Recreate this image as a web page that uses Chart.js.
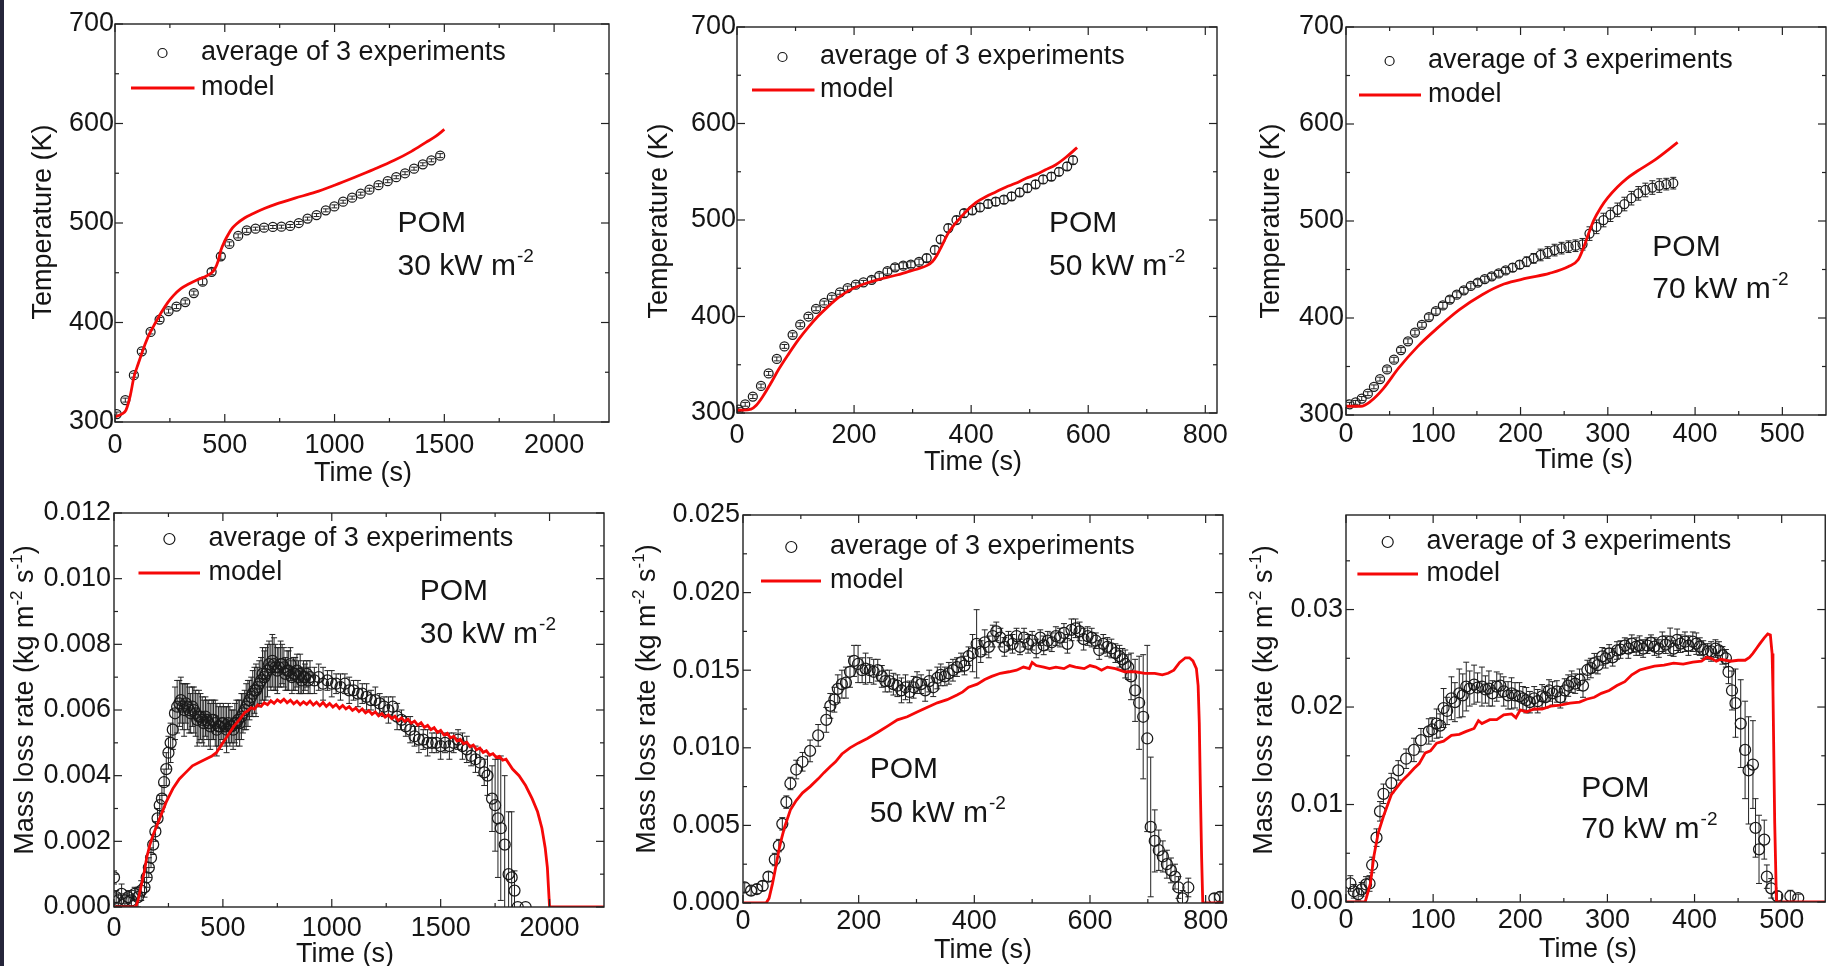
<!DOCTYPE html>
<html><head><meta charset="utf-8">
<script src="https://cdn.jsdelivr.net/npm/chart.js@4.4.1/dist/chart.umd.min.js"></script>
<style>
html,body{margin:0;padding:0;background:#fff;}
body{width:1832px;height:966px;position:relative;overflow:hidden;}
canvas{position:absolute;}
#strip{position:absolute;left:0;top:0;width:4px;height:966px;background:#25253a;}
</style></head><body>
<div id="strip"></div>
<script>
// ---------- DATA ----------
// Tick values
const T_xTicks30 = [0,500,1000,1500,2000];
const T_xTicks50 = [0,200,400,600,800];
const T_xTicks70 = [0,100,200,300,400,500];
const T_yTicks = [300,400,500,600,700];
const M_yTicks30 = [0,0.002,0.004,0.006,0.008,0.010,0.012];
const M_yTicks50 = [0,0.005,0.010,0.015,0.020,0.025];
const M_yTicks70 = [0,0.01,0.02,0.03];

// Panel 1: temperature, 30 kW m-2
const P1_expTime = [8,47,86,122,162,203,244,280,320,359,399,440,482,521,561,600,640,679,719,758,798,837,877,918,960,999,1039,1080,1119,1159,1200,1242,1281,1321,1362,1402,1441,1481];
const P1_expTemp = [308,322,347,371,390.5,403,411.5,416,420.6,429.6,441,451,466.5,479,487,492.6,494.3,495.3,496,496.3,497,500,504.4,508,512.7,516.7,521.4,525.5,529.5,533.5,538,542,546,550,554.6,559,563,567.7];
const P1_expErr  = [2,2,2,2,2,2,2,2,2,2,3,3,3,2,2,2,1.5,1.5,1.5,1.5,1.5,1.5,1.5,1.5,1.5,1.5,1.5,1.5,1.5,1.5,1.5,1.5,1.5,1.5,1.5,1.5,1.5,2];
const P1_modelTime = [0,10,30,50,70,86,105,122,140,158,185,212,240,266,300,338,375,410,440,455,470,482,500,517,535,553,590,625,680,733,820,913,1000,1092,1180,1272,1350,1416,1460,1500];
const P1_modelTemp = [305,306,308,312,327,345,358,369,380,389,400,410.5,420,427,434,439,443,446,450,454,462,472.5,482,489,495,499,505,509,514.5,519,525,531,538,546,554,563,572,581,587,594];

// Panel 2: temperature, 50 kW m-2
const P2_expTime = [3,14,27,41,54,68,81,95,108,122,135,149,162,176,189,203,216,230,243,257,270,284,297,311,324,338,348,361,375,388,402,415,429,442,456,469,483,496,510,523,537,550,564,574];
const P2_expTemp = [303.5,309,317,328,341,356,369,381,391.5,400,408,414,420,425,429.5,433,435.4,438,442,447,451,452.7,453.7,456.5,460.6,469,480,491.7,500,507,510,513,516.6,519,521,524.5,528.7,533,537,542,545,550,555.6,562];
const P2_expErr  = [2,2,2,2,2,2,2,2,2,2,2,2,2,2,2,2,2,3,3,3,3,3,3,3,4,4,4,4,4,4,4,4,4,4,4,4,4,4,4,4,4,4,4,4];
const P2_modelTime = [0,10,24,33,44,57,71,88,105,122,138,155,172,189,206,223,240,273,290,307,325,334,341,348,361,381,408,425,442,459,476,493,510,527,544,562,581];
const P2_modelTemp = [303,303,304,308,317,330,345,361,376,389,400,410,419,426,431,435,438,443,446,449,453,457,463,471,486.5,502,518,524,529,534,538,543,547,552,557,565,575];

// Panel 3: temperature, 70 kW m-2
const P3_expTime = [4,11,18,25,32,39,47,55,63,71,79,87,95,103,111,119,127,135,143,151,159,167,175,183,191,199,207,215,223,231,239,247,255,263,271,279,287,295,303,311,319,327,335,343,351,359,367,375];
const P3_expTemp = [311,313,317,322,329,337,347,357,367,376,385,393,401,407,413,419,424,428.5,433,436.5,440,443,446,449,452,455,458,461.5,465,467.5,470,472,473.5,474.5,476,487,494,501,506.5,511.5,517.5,523.5,528.5,532,534.5,536.5,538,539];
const P3_expErr  = [2,2,2,2,2,2,2.5,2.5,2.5,2.5,2.5,2.5,3,3,3,3,3,3,3,3,3,3,3,3,4,4,5,5,6,6,6,6,6,6,6,7,7,7,7,7,7,7,7,7,7,7,6,6];
const P3_modelTime = [0,10,17,28,43,60,82,104,130,156,181,207,233,255,266,272,278,284,292,300,311,322,333,354,380];
const P3_modelTemp = [309,309,309,314,327.5,348,370.5,389,408.6,424,435,441,446,453,460,472,487,501,514,524,535,544,551,563,581];

// Panel 4: mass loss rate, 30 kW m-2
const P4_expTime = [0,10,20,35,50,65,80,95,110,125,140,
  150,160,170,180,190,200,210,220,230,240,250,260,270,280,290,300,
  307,315,322,330,337,345,352,360,367,375,382,390,397,405,412,420,427,435,442,450,457,465,472,480,487,495,502,510,517,525,532,540,547,555,562,570,577,585,592,600,
  607,615,622,630,637,645,652,660,667,675,682,690,697,705,712,720,727,735,742,750,757,765,772,780,787,795,802,810,817,825,832,840,847,855,862,870,877,885,892,900,
  920,940,960,980,1000,1020,1040,1060,1080,1100,1120,1140,1160,1180,1200,1220,1240,1260,1280,1300,
  1320,1340,1360,1380,1400,1420,1440,1460,1480,1500,1520,1540,1560,1580,1600,1620,1640,1660,1680,1700,
  1715,1736,1750,1763,1776,1794,1812,1826,1839,1854,1890];
const P4_expMLR = [0.0009,0.0003,0.0002,0.0004,0.0002,0.0003,0.0002,0.0004,0.0003,0.0005,0.0006,
  0.0009,0.0012,0.0015,0.0019,0.0023,0.0027,0.0031,0.0033,0.0038,0.0042,0.0047,0.0050,0.0054,0.0059,0.0061,0.0062,
  0.0063,0.0061,0.0060,0.0062,0.0061,0.0060,0.0059,0.0061,0.0060,0.0059,0.0057,0.0058,0.0058,0.0057,0.0056,0.0058,0.0057,0.0056,0.0055,0.0057,0.0057,0.0056,0.0054,0.0055,0.0055,0.0056,0.0056,0.0055,0.0054,0.0056,0.0055,0.0055,0.0054,0.0056,0.0056,0.0057,0.0056,0.0058,0.0059,0.0060,
  0.0061,0.0062,0.0063,0.0064,0.0065,0.0066,0.0066,0.0067,0.0068,0.0069,0.0071,0.0070,0.0071,0.0072,0.0074,0.0073,0.0075,0.0074,0.0073,0.0072,0.0073,0.0074,0.0074,0.0073,0.0071,0.0072,0.0072,0.0074,0.0070,0.0071,0.0071,0.0072,0.0070,0.0071,0.0069,0.0070,0.0070,0.0071,0.0069,0.0070,
  0.0069,0.0070,0.0068,0.0069,0.0068,0.0068,0.0067,0.0068,0.0066,0.0066,0.0065,0.0065,0.0064,0.0063,0.0063,0.0062,0.0061,0.0060,0.0061,0.0058,
  0.0057,0.0055,0.0054,0.0052,0.0051,0.0051,0.0050,0.0050,0.0050,0.0049,0.0050,0.0049,0.0050,0.0051,0.0049,0.0048,0.0046,0.0045,0.0044,0.0041,
  0.0040,0.0033,0.0031,0.0027,0.0024,0.0019,0.0010,0.0009,0.0005,0,0];
const P4_expErr = [0.0002,0.0002,0.0002,0.0003,0.0002,0.0002,0.0003,0.0002,0.0003,0.0003,0.0003,
  0.0003,0.0003,0.0003,0.0003,0.0003,0.0003,0.0003,0.0004,0.0004,0.0005,0.0005,0.0006,0.0006,0.0008,0.0008,0.0007,
  0.0007,0.0007,0.0008,0.0006,0.0007,0.0007,0.0006,0.0006,0.0007,0.0007,0.0008,0.0008,0.0007,0.0007,0.0007,0.0006,0.0006,0.0007,0.0007,0.0006,0.0006,0.0007,0.0008,0.0006,0.0007,0.0005,0.0006,0.0006,0.0007,0.0006,0.0006,0.0005,0.0006,0.0006,0.0007,0.0006,0.0007,0.0007,0.0006,0.0006,
  0.0007,0.0007,0.0006,0.0006,0.0007,0.0007,0.0008,0.0006,0.0007,0.0007,0.0008,0.0008,0.0008,0.0008,0.0007,0.0007,0.0008,0.0008,0.0007,0.0007,0.0006,0.0007,0.0006,0.0006,0.0005,0.0006,0.0006,0.0005,0.0005,0.0005,0.0005,0.0005,0.0005,0.0006,0.0004,0.0005,0.0004,0.0004,0.0004,0.0005,
  0.0004,0.0004,0.0005,0.0003,0.0004,0.0003,0.0004,0.0003,0.0004,0.0003,0.0004,0.0003,0.0004,0.0003,0.0004,0.0003,0.0003,0.0004,0.0003,0.0004,
  0.0003,0.0003,0.0004,0.0003,0.0004,0.0003,0.0004,0.0003,0.0003,0.0004,0.0003,0.0004,0.0003,0.0003,0.0004,0.0004,0.0003,0.0004,0.0004,0.0004,
  0.0006,0.0010,0.0014,0.0018,0.0022,0.0021,0.0019,0.0020,0.0006,0,0];
const P4_modelTime = [0,100,110,120,130,140,150,165,180,204,240,270,300,330,360,390,420,450,470,490,510,530,550,575,
  600,615,630,645,660,675,690,705,720,735,750,765,780,795,810,825,840,855,870,885,900,915,930,945,960,975,990,1005,1020,1035,1050,1065,1080,1095,1110,1125,1140,1155,1170,1185,1200,1215,1230,1245,1260,1275,1290,1305,1320,1335,1350,1365,1380,1395,1410,1425,1440,1455,1470,1485,1500,1515,1530,1545,1560,1575,1590,1605,1620,1635,1650,1665,1680,1695,1710,1725,1740,1755,1770,1785,1800,
  1830,1860,1890,1920,1945,1965,1980,1990,1995,2000,2250];
const P4_modelMLR = [0,0,0.0002,0.0005,0.0008,0.0011,0.0015,0.0019,0.0022,0.0026,0.0032,0.0036,0.0039,0.0041,0.0043,0.0044,0.0045,0.0046,0.0047,0.0049,0.0051,0.0053,0.0055,0.0057,
  0.00592,0.00598,0.00607,0.00603,0.00616,0.00611,0.00622,0.00616,0.00628,0.00620,0.00631,0.00624,0.00633,0.00622,0.00630,0.00619,0.00627,0.00616,0.00625,0.00617,0.00627,0.00615,0.00624,0.00613,0.00623,0.00611,0.00620,0.00609,0.00617,0.00605,0.00614,0.00603,0.00610,0.00599,0.00606,0.00595,0.00603,0.00591,0.00598,0.00587,0.00594,0.00582,0.00589,0.00578,0.00585,0.00574,0.00581,0.00568,0.00576,0.00565,0.00572,0.00560,0.00566,0.00554,0.00561,0.00547,0.00553,0.00540,0.00546,0.00532,0.00538,0.00524,0.00529,0.00515,0.00520,0.00506,0.00511,0.00497,0.00502,0.00488,0.00493,0.00479,0.00484,0.00471,0.00476,0.00463,0.00467,0.00456,0.00459,0.00447,0.00450,
  0.0042,0.0040,0.0037,0.0033,0.0029,0.0024,0.0018,0.0012,0.0006,0,0];

// Panel 5: mass loss rate, 50 kW m-2
const P5_expTime = [3,14,24,34,44,55,62,68,75,82,92,103,116,130,144,158,171,185,199,212,226,240,253,267,281,295,308,322,336,349,363,377,390,404,418,432,445,459,473,486,500,514,527,541,555,568,582,596,610,623,637,651,661,671,678,685,692,699,705,712,719,726,733,740,747,753,760,770,815,825,
  151,164,178,192,206,219,233,246,260,274,288,301,315,329,342,356,370,383,397,411,425,438,452,466,479,493,507,520,534,548,561,575,589,603,616,630,644,656,666];
const P5_expMLR = [0.001,0.0008,0.0009,0.0011,0.0017,0.0028,0.0037,0.0051,0.0065,0.0077,0.0086,0.0091,0.0098,0.0108,0.0118,0.0131,0.0141,0.0149,0.0154,0.0151,0.0149,0.0146,0.0143,0.014,0.0139,0.0139,0.0141,0.0143,0.0145,0.0146,0.015,0.0155,0.0159,0.0167,0.0168,0.0172,0.0171,0.0169,0.0172,0.0171,0.0169,0.0171,0.0169,0.0172,0.0174,0.0176,0.0175,0.0172,0.0169,0.0167,0.0164,0.0159,0.0154,0.0146,0.0137,0.0129,0.012,0.0106,0.0049,0.004,0.0034,0.003,0.0025,0.0021,0.0017,0.001,0.0003,0.001,0.0003,0.0004,
  0.0127,0.0138,0.0142,0.0156,0.0150,0.0150,0.0150,0.0143,0.0141,0.0137,0.0136,0.0142,0.0137,0.0139,0.0147,0.0148,0.0152,0.0153,0.0161,0.0162,0.0165,0.0175,0.0165,0.0167,0.0165,0.0167,0.0164,0.0166,0.0168,0.0171,0.0167,0.0177,0.0170,0.0171,0.0163,0.0165,0.0161,0.0157,0.0152];
const P5_expErr = [0.0003,0.0003,0.0003,0.0003,0.0003,0.0004,0.0004,0.0004,0.0004,0.0004,0.0006,0.0006,0.0007,0.0007,0.0008,0.0008,0.0009,0.001,0.0012,0.001,0.0008,0.0007,0.0007,0.0007,0.0008,0.0007,0.0006,0.0007,0.0007,0.0006,0.0007,0.0006,0.0006,0.0022,0.0008,0.0007,0.0006,0.0006,0.0005,0.0006,0.0006,0.0005,0.0006,0.0006,0.0006,0.0007,0.0006,0.0006,0.0005,0.0006,0.0006,0.0007,0.0009,0.0015,0.002,0.003,0.004,0.006,0.0045,0.002,0.0013,0.001,0.0009,0.0008,0.0008,0.0007,0.0005,0.0006,0.0003,0.0003,
  0.0008,0.0009,0.0010,0.0010,0.0008,0.0008,0.0007,0.0007,0.0007,0.0008,0.0007,0.0007,0.0007,0.0006,0.0007,0.0007,0.0006,0.0006,0.0012,0.0007,0.0007,0.0006,0.0006,0.0006,0.0005,0.0006,0.0006,0.0006,0.0006,0.0006,0.0006,0.0006,0.0007,0.0006,0.0006,0.0006,0.0006,0.0007,0.0008];
const P5_modelTime = [0,40,45,51,56,62,67,72,82,92,103,116,130,140,151,160,171,185,199,215,233,250,267,284,301,318,336,353,370,380,390,405,418,430,445,460,473,485,495,500,507,520,530,541,555,565,575,590,600,610,620,630,644,660,678,695,712,725,735,745,755,765,772,778,784,787,789,791,793,795,830];
const P5_modelMLR = [0,0,0.0003,0.00125,0.0022,0.0034,0.0042,0.0049,0.006,0.0066,0.0071,0.0075,0.008,0.0084,0.0088,0.0091,0.0096,0.01,0.0103,0.0106,0.011,0.0114,0.0118,0.012,0.0123,0.0126,0.0129,0.0131,0.0134,0.0136,0.0139,0.0141,0.0144,0.0146,0.0148,0.0149,0.015,0.0152,0.0151,0.0155,0.0153,0.0152,0.0151,0.0152,0.0151,0.0153,0.0152,0.0151,0.0153,0.0152,0.015,0.0152,0.0151,0.0149,0.0149,0.0148,0.0148,0.0147,0.0148,0.015,0.0155,0.0158,0.0158,0.0156,0.0151,0.014,0.0116,0.007,0.003,0,0];

// Panel 6: mass loss rate, 70 kW m-2
const P6_expTime = [5,9,14,18,23,27,30,35,39,43,52,60,69,78,86,95,104,112,121,130,138,147,156,164,173,181,190,199,207,216,225,233,242,251,259,268,277,285,294,302,311,320,328,337,346,354,363,372,380,389,398,406,415,424,432,439,443,447,453,458,462,467,470,474,480,483,488,495,510,519,
  99,108,116,125,134,142,151,160,168,177,186,194,203,211,220,229,237,246,255,263,272,281,289,298,306,315,324,333,341,350,359,367,376,384,393,402,410,419,428,436];
const P6_expMLR = [0.0019,0.0011,0.0008,0.0013,0.0018,0.0019,0.0038,0.0066,0.0093,0.0111,0.0122,0.0135,0.0147,0.0156,0.0166,0.0175,0.0183,0.0199,0.0209,0.0214,0.0221,0.0223,0.0221,0.0219,0.0221,0.0216,0.0214,0.0211,0.0207,0.0209,0.0211,0.0217,0.0216,0.0217,0.0226,0.0228,0.0238,0.0245,0.0252,0.0255,0.0258,0.0263,0.0265,0.0263,0.0263,0.0262,0.0267,0.0267,0.0269,0.0267,0.0267,0.0262,0.0257,0.026,0.0253,0.0236,0.0217,0.0204,0.0183,0.0156,0.0135,0.0141,0.0076,0.0054,0.0064,0.0026,0.0014,0.0006,0.0006,0.0004,
  0.0177,0.0181,0.0196,0.0205,0.0212,0.0219,0.0220,0.0218,0.0214,0.0222,0.0212,0.0212,0.0209,0.0205,0.0206,0.0210,0.0214,0.0210,0.0222,0.0224,0.0222,0.0240,0.0243,0.0250,0.0251,0.0259,0.0260,0.0262,0.0260,0.0266,0.0260,0.0264,0.0260,0.0265,0.0263,0.0265,0.0259,0.0257,0.0258,0.0250];
const P6_expErr = [0.0008,0.0007,0.0006,0.0007,0.0008,0.0008,0.0008,0.0009,0.001,0.001,0.001,0.001,0.001,0.0012,0.0012,0.0013,0.0015,0.002,0.0022,0.0025,0.0025,0.002,0.002,0.0018,0.0015,0.0015,0.0016,0.0014,0.0013,0.0012,0.0012,0.0011,0.0011,0.0012,0.0011,0.0011,0.001,0.001,0.0009,0.0009,0.0009,0.0008,0.0009,0.001,0.0008,0.0009,0.001,0.0014,0.0011,0.001,0.001,0.0009,0.0008,0.0009,0.0009,0.0012,0.002,0.0035,0.0045,0.005,0.0055,0.0045,0.003,0.0035,0.002,0.0012,0.001,0.0005,0.0006,0.0004,
  0.0012,0.0012,0.0014,0.002,0.0022,0.0018,0.0015,0.0014,0.0013,0.0012,0.0014,0.0013,0.0012,0.0011,0.0012,0.0011,0.0012,0.0011,0.0011,0.001,0.0012,0.001,0.0009,0.001,0.0009,0.0009,0.001,0.0009,0.0009,0.0008,0.0009,0.0009,0.0008,0.0009,0.001,0.0011,0.0009,0.001,0.0009,0.0009];
const P6_modelTime = [0,22,28,32,37,43,52,58,65,72,78,84,91,97,104,112,121,130,138,147,152,156,165,173,181,190,195,200,207,216,225,235,246,257,268,276,285,293,302,311,320,328,337,345,354,365,376,387,398,408,414,419,425,430,441,450,458,463,467,471,475,480,484,487,489,490,492,494,550];
const P6_modelMLR = [0,0,0.0019,0.0047,0.0071,0.0088,0.011,0.0117,0.0125,0.0131,0.0137,0.0142,0.0153,0.0155,0.0163,0.0165,0.0171,0.0172,0.0175,0.0178,0.0186,0.0183,0.0187,0.0187,0.0192,0.0193,0.0189,0.0197,0.0195,0.0198,0.0198,0.0201,0.0202,0.0204,0.0205,0.0208,0.021,0.0214,0.0217,0.0222,0.0226,0.0233,0.0238,0.024,0.0242,0.0243,0.0245,0.0244,0.0246,0.0247,0.0251,0.025,0.0247,0.0249,0.0247,0.0248,0.0248,0.0251,0.0255,0.026,0.0265,0.0271,0.0275,0.0274,0.0255,0.0217,0.0081,0,0];

// Texts
const LEGEND_EXP = 'average of 3 experiments';
const LEGEND_MODEL = 'model';
const MATERIAL = 'POM';
const FLUX_LABELS = ['30 kW m', '50 kW m', '70 kW m'];
const X_TITLE = 'Time (s)';
const Y_TITLE_T = 'Temperature (K)';
const Y_TITLE_MLR = [['Mass loss rate (kg m',0],['-2',1],[' s',0],['-1',1],[')',0]];

// ---------- STYLE / LAYOUT ----------
const FONT = '"Liberation Sans", Arial, Helvetica, sans-serif';
const RED = 'rgb(245,8,8)';
const INK = '#151515';

// x/y: [min, max, majorStep, minorStep, decimals]
const panels = [
 {box:[0,0,625,490], plot:[115,24,609,422], x:[0,2250,500,250,0], y:[300,700,100,50,0], xt:T_xTicks30, yt:T_yTicks, xpad:7, ypad:1,
  ex:[P1_expTime,P1_expTemp,P1_expErr], mo:[P1_modelTime,P1_modelTemp], smooth:true, r:4.5,
  yT:[[Y_TITLE_T,0]], yTxy:[43.5,222], xTxy:[363,474], leg:[47.5,29,86,16,79.5,64], ann:[1287,499,456,0]},
 {box:[625,0,615,490], plot:[737,27,1217,413], x:[0,820,200,100,0], y:[300,700,100,50,0], xt:T_xTicks50, yt:T_yTicks, xpad:6, ypad:1,
  ex:[P2_expTime,P2_expTemp,P2_expErr], mo:[P2_modelTime,P2_modelTemp], smooth:true, r:4.5,
  yT:[[Y_TITLE_T,0]], yTxy:[660,221], xTxy:[973,463], leg:[45.5,30,83,15,77.5,63], ann:[533,496,452,1]},
 {box:[1240,0,592,490], plot:[1346,27,1826,415], x:[0,550,100,50,0], y:[300,700,100,50,0], xt:T_xTicks70, yt:T_yTicks, xpad:3, ypad:2,
  ex:[P3_expTime,P3_expTemp,P3_expErr], mo:[P3_modelTime,P3_modelTemp], smooth:true, r:4.5,
  yT:[[Y_TITLE_T,0]], yTxy:[1272,221], xTxy:[1584,461], leg:[43.6,34,82,13,75,68], ann:[351,472,429,2]},
 {box:[0,490,625,476], plot:[114,513,604,907], x:[0,2250,500,250,0], y:[0,0.012,0.002,0.001,3], xt:T_xTicks30, yt:M_yTicks30, xpad:5, ypad:3,
  ex:[P4_expTime,P4_expMLR,P4_expErr], mo:[P4_modelTime,P4_modelMLR], smooth:false, r:5.5,
  yT:Y_TITLE_MLR, yTxy:[26,700], xTxy:[345,955], leg:[55.4,26,94.6,24.5,86,60], ann:[1404,0.00961,0.00829,0]},
 {box:[625,490,615,476], plot:[743,515,1223,903], x:[0,830,200,100,0], y:[0,0.025,0.005,0.0025,3], xt:T_xTicks50, yt:M_yTicks50, xpad:2, ypad:3,
  ex:[P5_expTime,P5_expMLR,P5_expErr], mo:[P5_modelTime,P5_modelMLR], smooth:false, r:5.5,
  yT:Y_TITLE_MLR, yTxy:[648,699], xTxy:[983,951], leg:[48.3,32,87,18,78,66], ann:[219,0.00856,0.00576,1]},
 {box:[1240,490,592,476], plot:[1346,515,1827,902], x:[0,550,100,50,0], y:[0,0.0397,0.01,0.005,2], xt:T_xTicks70, yt:M_yTicks70, xpad:2, ypad:3,
  ex:[P6_expTime,P6_expMLR,P6_expErr], mo:[P6_modelTime,P6_modelMLR], smooth:false, r:5.5,
  yT:Y_TITLE_MLR, yTxy:[1265,700], xTxy:[1588,950], leg:[41.7,27,80.5,11.4,72,59], ann:[270,0.01167,0.0074,2]}
];

function drawRich(ctx, segs, x, y, rot, size, supSize, rise) {
  ctx.save();
  ctx.translate(x, y);
  ctx.rotate(rot);
  let w = 0;
  const ws = segs.map(s => { ctx.font = (s[1] ? supSize : size) + 'px ' + FONT; const m = ctx.measureText(s[0]).width; w += m; return m; });
  let cx = -w / 2;
  ctx.textBaseline = 'middle'; ctx.textAlign = 'left'; ctx.fillStyle = INK;
  segs.forEach((s, i) => { ctx.font = (s[1] ? supSize : size) + 'px ' + FONT; ctx.fillText(s[0], cx, s[1] ? -rise : 0); cx += ws[i]; });
  ctx.restore();
}

function deco(p) {
  const bx = p.box[0], by = p.box[1];
  return {
    id: 'deco',
    beforeDatasetsDraw(chart) {
      const ctx = chart.ctx, xs = chart.scales.x, ys = chart.scales.y, a = chart.chartArea;
      const [T, V, E] = p.ex;
      ctx.save();
      ctx.beginPath(); ctx.rect(a.left, a.top, a.right - a.left, a.bottom - a.top); ctx.clip();
      ctx.strokeStyle = '#222'; ctx.lineWidth = 1;
      for (let i = 0; i < T.length; i++) {
        if (!E[i]) continue;
        const px = xs.getPixelForValue(T[i]);
        const y1 = ys.getPixelForValue(V[i] + E[i]), y2 = ys.getPixelForValue(V[i] - E[i]);
        ctx.beginPath();
        ctx.moveTo(px, y1); ctx.lineTo(px, y2);
        ctx.moveTo(px - 3, y1); ctx.lineTo(px + 3, y1);
        ctx.moveTo(px - 3, y2); ctx.lineTo(px + 3, y2);
        ctx.stroke();
      }
      ctx.restore();
    },
    afterDraw(chart) {
      const ctx = chart.ctx, xs = chart.scales.x, ys = chart.scales.y, a = chart.chartArea;
      ctx.save();
      ctx.strokeStyle = '#222'; ctx.lineWidth = 1.4;
      ctx.strokeRect(a.left, a.top, a.right - a.left, a.bottom - a.top);
      ctx.lineWidth = 1.2;
      const seg = (x1, y1, x2, y2) => { ctx.beginPath(); ctx.moveTo(x1, y1); ctx.lineTo(x2, y2); ctx.stroke(); };
      xs.ticks.forEach(t => { const px = xs.getPixelForValue(t.value); seg(px, a.bottom, px, a.bottom - 8); seg(px, a.top, px, a.top + 8); });
      ys.ticks.forEach(t => { const py = ys.getPixelForValue(t.value); seg(a.left, py, a.left + 8, py); seg(a.right, py, a.right - 8, py); });
      const xm = p.x[3], ym = p.y[3];
      for (let k = 1; k * xm < p.x[1] - 1e-9; k++) {
        const v = k * xm; if (Math.abs(v / p.x[2] - Math.round(v / p.x[2])) < 1e-6) continue;
        const px = xs.getPixelForValue(v); seg(px, a.bottom, px, a.bottom - 4); seg(px, a.top, px, a.top + 4);
      }
      for (let k = 1; p.y[0] + k * ym < p.y[1] - 1e-9; k++) {
        const v = p.y[0] + k * ym; if (Math.abs((v - p.y[0]) / p.y[2] - Math.round((v - p.y[0]) / p.y[2])) < 1e-6) continue;
        const py = ys.getPixelForValue(v); seg(a.left, py, a.left + 4, py); seg(a.right, py, a.right - 4, py);
      }
      // legend
      const L = a.left, Tp = a.top, lg = p.leg;
      ctx.strokeStyle = INK; ctx.lineWidth = 1.2;
      ctx.beginPath(); ctx.arc(L + lg[0], Tp + lg[1], p.r, 0, Math.PI * 2); ctx.stroke();
      ctx.strokeStyle = RED; ctx.lineWidth = 3;
      seg(L + lg[3], Tp + lg[5], L + lg[4], Tp + lg[5]);
      ctx.fillStyle = INK; ctx.font = '27px ' + FONT; ctx.textBaseline = 'middle'; ctx.textAlign = 'left';
      ctx.fillText(LEGEND_EXP, L + lg[2], Tp + lg[1]);
      ctx.fillText(LEGEND_MODEL, L + lg[2], Tp + lg[5]);
      // annotation
      const ax = xs.getPixelForValue(p.ann[0]);
      ctx.font = '30px ' + FONT;
      ctx.fillText(MATERIAL, ax, ys.getPixelForValue(p.ann[1]));
      const fy = ys.getPixelForValue(p.ann[2]);
      const fl = FLUX_LABELS[p.ann[3]];
      ctx.fillText(fl, ax, fy);
      const fw = ctx.measureText(fl).width;
      ctx.font = '19px ' + FONT;
      ctx.fillText('-2', ax + fw + 1, fy - 10);
      // axis titles
      drawRich(ctx, [[X_TITLE, 0]], p.xTxy[0] - bx, p.xTxy[1] - by, 0, 27, 17, 9);
      drawRich(ctx, p.yT, p.yTxy[0] - bx, p.yTxy[1] - by, -Math.PI / 2, 27, 17, 9);
      ctx.restore();
    }
  };
}

panels.forEach(p => {
  const [bx, by, bw, bh] = p.box;
  const [L, T, R, B] = p.plot;
  const cv = document.createElement('canvas');
  cv.width = bw; cv.height = bh;
  cv.style.left = bx + 'px'; cv.style.top = by + 'px';
  cv.style.width = bw + 'px'; cv.style.height = bh + 'px';
  document.body.appendChild(cv);
  const tickFont = { family: FONT, size: 27 };
  new Chart(cv, {
    type: 'scatter',
    data: {
      datasets: [
        { type: 'line', label: LEGEND_MODEL, data: p.mo[0].map((t, i) => ({ x: t, y: p.mo[1][i] })),
          borderColor: RED, borderWidth: 2.8, pointRadius: 0, fill: false,
          cubicInterpolationMode: p.smooth ? 'monotone' : 'default', tension: 0, order: 0 },
        { type: 'scatter', label: LEGEND_EXP, data: p.ex[0].map((t, i) => ({ x: t, y: p.ex[1][i] })),
          pointRadius: p.r, pointBorderColor: '#1a1a1a', pointBorderWidth: 1.25,
          pointBackgroundColor: 'rgba(255,255,255,0)', order: 1 }
      ]
    },
    options: {
      responsive: false, animation: false, devicePixelRatio: 1,
      layout: { padding: { left: 0, top: T - by, right: bx + bw - R, bottom: 0 } },
      plugins: { legend: { display: false }, tooltip: { enabled: false } },
      scales: {
        x: { type: 'linear', position: 'bottom', min: p.x[0], max: p.x[1],
          afterFit(s) { s.height = by + bh - B; },
          afterBuildTicks(s) { s.ticks = p.xt.map(v => ({ value: v })); },
          grid: { display: false, drawTicks: false }, border: { display: false },
          ticks: { autoSkip: false, maxRotation: 0, minRotation: 0, padding: p.xpad,
            color: INK, font: tickFont, callback: v => Number(v).toFixed(p.x[4]) } },
        y: { type: 'linear', position: 'left', min: p.y[0], max: p.y[1],
          afterFit(s) { s.width = L - bx; },
          afterBuildTicks(s) { s.ticks = p.yt.map(v => ({ value: v })); },
          grid: { display: false, drawTicks: false }, border: { display: false },
          ticks: { autoSkip: false, padding: p.ypad,
            color: INK, font: tickFont, callback: v => Number(v).toFixed(p.y[4]) } }
      }
    },
    plugins: [deco(p)]
  });
});
</script>
</body></html>
